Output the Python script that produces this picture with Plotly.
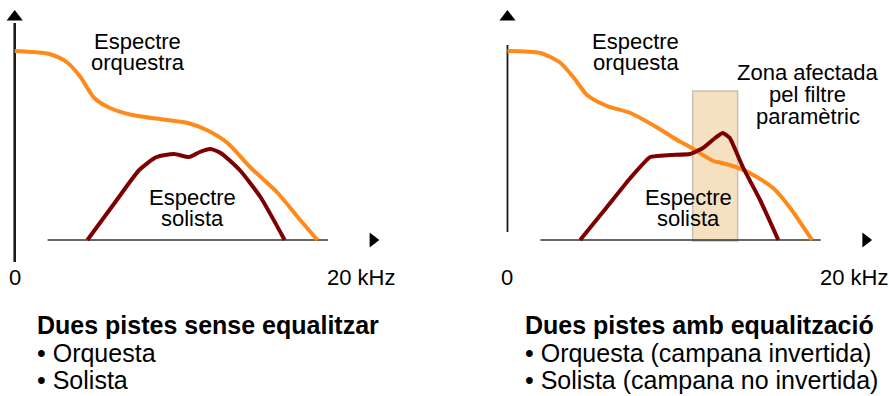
import plotly.graph_objects as go

W, H = 889, 396
FONT = "Liberation Sans, Arial, sans-serif"
ORANGE = "#ff8a1c"
DARKRED = "#7d0000"

# ---- data: frequency (kHz) vs. level (arbitrary units) ----
orq_left_f = [0, 2.0, 3.0, 3.8, 4.6, 5.5, 6.8, 8.8, 10.0, 11.1, 12.3, 13.6, 15.2, 16.5, 17.5]
orq_left_a = [94.5, 93, 89, 81.5, 71, 66, 62.5, 60, 58.5, 55, 48.5, 36.5, 23.5, 10, 0]

sol_left_f = [4.2, 5.9, 7.2, 8.2, 9.2, 10.1, 10.7, 11.3, 11.9, 13.0, 14.2, 15.6]
sol_left_a = [0, 20, 35, 41.5, 43, 41.5, 44, 45.5, 43.5, 35, 21.5, 0]

orq_right_f = [0, 1.9, 3.0, 3.8, 4.6, 5.75, 7.1, 8.6, 9.8, 10.55, 11.3, 11.9, 12.4,
               13.2, 14.0, 15.35, 16.3, 17.6]
orq_right_a = [94.5, 93.5, 89, 81.5, 72.5, 67, 63.5, 56.5, 50, 46.5, 42.5, 39.5, 38.5,
               36.5, 33.5, 26, 16.5, 0]

sol_right_f = [4.2, 5.75, 7.1, 8.25, 9.4, 10.55, 11.3, 12.0, 12.45, 12.85, 13.6, 14.6, 15.65]
sol_right_a = [0, 16.5, 31, 41.5, 42.5, 43, 46, 51, 53.5, 51, 36.5, 20, 0]

# parametric filter zone (kHz, level)
zone_f = [10.7, 13.3]
zone_a = [-0.5, 74.5]

# axis geometry (data units)
base_left_f = [1.9, 18.1]
base_right_f = [1.9, 18.1]
vaxis_left_a = [-11, 108.5]
vaxis_right_a = [4, 97.5]
arrow_up_a = 111.5
arrow_right_f = 20.7

# texts
bottom_left = ["<b>Dues pistes sense equalitzar</b>", "• Orquesta", "• Solista"]
bottom_right = ["<b>Dues pistes amb equalització</b>", "• Orquesta (campana invertida)",
                "• Solista (campana no invertida)"]

fig = go.Figure()

def panel(xa, ya, orq_f, orq_a, sol_f, sol_a, base_f, vaxis_a, vw, sol_smooth):
    fig.add_trace(go.Scatter(x=base_f, y=[0, 0], mode="lines", xaxis=xa, yaxis=ya,
                             line=dict(color="#333333", width=1.6), hoverinfo="skip"))
    fig.add_trace(go.Scatter(x=[0, 0], y=vaxis_a, mode="lines", xaxis=xa, yaxis=ya,
                             line=dict(color="#1a1a1a", width=vw), hoverinfo="skip"))
    fig.add_trace(go.Scatter(x=[0], y=[arrow_up_a], mode="markers", xaxis=xa, yaxis=ya,
                             marker=dict(symbol="triangle-up", size=14, color="black"),
                             hoverinfo="skip"))
    fig.add_trace(go.Scatter(x=[arrow_right_f], y=[0], mode="markers", xaxis=xa, yaxis=ya,
                             marker=dict(symbol="triangle-right", size=13, color="black"),
                             hoverinfo="skip"))
    fig.add_trace(go.Scatter(x=orq_f, y=orq_a, mode="lines", xaxis=xa, yaxis=ya,
                             line=dict(color=ORANGE, width=4, shape="spline", smoothing=0.7)))
    fig.add_trace(go.Scatter(x=sol_f, y=sol_a, mode="lines", xaxis=xa, yaxis=ya,
                             line=dict(color=DARKRED, width=4, shape="spline",
                                       smoothing=sol_smooth)))

panel("x", "y", orq_left_f, orq_left_a, sol_left_f, sol_left_a, base_left_f, vaxis_left_a, 2.6, 0.6)
panel("x2", "y2", orq_right_f, orq_right_a, sol_right_f, sol_right_a, base_right_f,
      vaxis_right_a, 1.8, 0.4)

fig.add_shape(type="rect", xref="x2", yref="y2", x0=zone_f[0], x1=zone_f[1],
              y0=zone_a[0], y1=zone_a[1], fillcolor="#f5e0c2",
              line=dict(color="#c9c1b6", width=1.5), layer="below")

ann = []
def txt(x, y, t, xr, yr, size=22, xanchor="center"):
    ann.append(dict(x=x, y=y, xref=xr, yref=yr, text=t, showarrow=False,
                    xanchor=xanchor, yanchor="middle",
                    font=dict(family=FONT, size=size, color="black")))

# left panel labels
txt(7.1, 99.5, "Espectre", "x", "y"); txt(7.1, 89, "orquestra", "x", "y")
txt(10.25, 21.5, "Espectre", "x", "y"); txt(10.25, 11, "solista", "x", "y")
txt(0, -18.5, "0", "x", "y"); txt(20, -18.5, "20 kHz", "x", "y")
# right panel labels
txt(7.4, 99.5, "Espectre", "x2", "y2"); txt(7.4, 89, "orquesta", "x2", "y2")
txt(17.35, 84, "Zona afectada", "x2", "y2"); txt(17.35, 73, "pel filtre", "x2", "y2")
txt(17.35, 62, "paramètric", "x2", "y2")
txt(10.45, 21.5, "Espectre", "x2", "y2"); txt(10.45, 11, "solista", "x2", "y2")
txt(0, -18.5, "0", "x2", "y2"); txt(20, -18.5, "20 kHz", "x2", "y2")

line_y = [325, 353, 380]
for t, yy in zip(bottom_left, line_y):
    txt(35 / W, 1 - yy / H, t, "paper", "paper", size=25, xanchor="left")
for t, yy in zip(bottom_right, line_y):
    txt(523 / W, 1 - yy / H, t, "paper", "paper", size=25, xanchor="left")

axis_common = dict(visible=False, showgrid=False, zeroline=False, fixedrange=True)
fig.update_layout(
    width=W, height=H, margin=dict(l=0, r=0, t=0, b=0),
    paper_bgcolor="white", plot_bgcolor="white", showlegend=False,
    xaxis=dict(domain=[0, 0.5], range=[-0.85, 24.84], **axis_common),
    yaxis=dict(domain=[0, 1], range=[-78, 120], **axis_common),
    xaxis2=dict(domain=[0.5, 1], range=[-3.64, 22.05], anchor="y2", **axis_common),
    yaxis2=dict(domain=[0, 1], range=[-78, 120], anchor="x2", **axis_common),
    annotations=ann,
)
fig.write_html("out.html", config={"displayModeBar": False},
               post_script="document.body.style.margin='0';document.body.style.overflow='hidden';")
